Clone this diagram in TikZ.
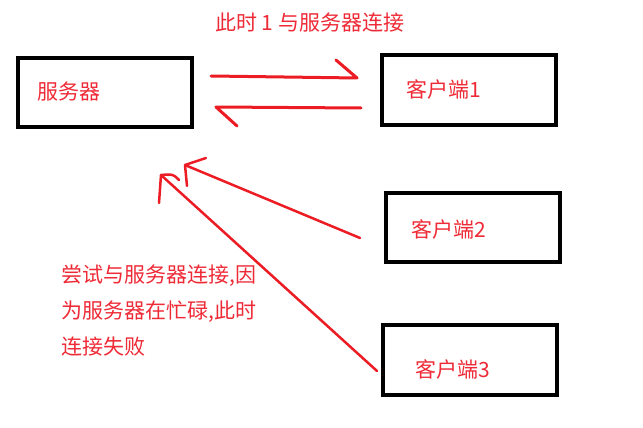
\documentclass[tikz,border=0pt]{standalone}
\usepackage{fontspec}
\setmainfont{Noto Sans CJK SC}
\definecolor{pen}{HTML}{EC1C24}
\definecolor{ink}{HTML}{EE2A36}
\begin{document}
\begin{tikzpicture}[x=1pt,y=-1pt,
  box/.style={draw=black,line width=4pt,minimum width=174pt,minimum height=70pt,inner sep=0pt},
  lbl/.style={text=ink,font=\fontsize{21}{25}\selectfont,anchor=west,inner sep=0pt},
  stroke/.style={draw=pen,line width=3pt,line cap=round,line join=round}]
\useasboundingbox (0,0) rectangle (643,428);
\node[box,minimum height=69pt] (srv) at (104.5,92.5) {};
\node[box] (c1) at (469,90) {};
\node[box,minimum height=69pt] (c2) at (473,227.5) {};
\node[box] (c3) at (470,360) {};
\node[lbl] (tsrv) at (37,92) {服务器};
\node[lbl] (tc1) at (406,89) {客户端1};
\node[lbl] (tc2) at (411,229) {客户端2};
\node[lbl] (tc3) at (415,369) {客户端3};
\node[lbl] (ttop) at (215,23) {此时 1 与服务器连接};
\node[lbl] (n1) at (61,276) {尝试与服务器连接,因};
\node[lbl] (n2) at (61,312) {为服务器在忙碌,此时};
\node[lbl] (n3) at (61,347) {连接失败};
% arrow server -> client1
\coordinate (a1s) at (211,76);
\coordinate (a1e) at (357,78);
\coordinate (a1h) at (336,60);
\draw[stroke] (a1s) -- (a1e) -- (a1h);
% arrow client1 -> server
\coordinate (a2s) at (361,108);
\coordinate (a2e) at (216,107);
\coordinate (a2h) at (237,126);
\draw[stroke] (a2s) -- (a2e) -- (a2h);
% arrow client2 -> server
\coordinate (a3s) at (360,238);
\coordinate (a3e) at (185,165);
\draw[stroke,line width=2.5pt] (a3s) -- (a3e);
\draw[stroke,line width=2.5pt] (206,158) -- (a3e) -- (187,186);
% arrow client3 -> server
\coordinate (a4s) at (377,371);
\coordinate (a4e) at (161,175);
\draw[stroke,line width=2.5pt] (a4s) -- (a4e);
\draw[stroke,line width=2.5pt] (179,180) .. controls (173,174) .. (a4e) -- (159,203);
\end{tikzpicture}
\end{document}
